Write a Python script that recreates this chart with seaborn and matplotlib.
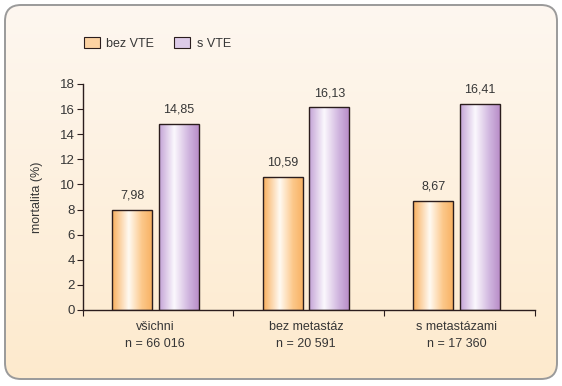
import numpy as np
import pandas as pd
import matplotlib
matplotlib.use("Agg")
import matplotlib.pyplot as plt
import seaborn as sns
from matplotlib.patches import FancyBboxPatch, Rectangle
from matplotlib.colors import LinearSegmentedColormap

# data
categories = ["všichni\nn = 66 016", "bez metastáz\nn = 20 591", "s metastázami\nn = 17 360"]
groups = ["bez VTE", "s VTE"]
bez_vte = [7.98, 10.59, 8.67]
s_vte = [14.85, 16.13, 16.41]

df = pd.DataFrame({
    "kategorie": categories * 2,
    "skupina": [groups[0]] * 3 + [groups[1]] * 3,
    "mortalita": bez_vte + s_vte,
})

sns.set_style("white")
plt.rcParams["font.family"] = ["Liberation Sans", "DejaVu Sans"]
text_col = "#363636"
edge_col = "#2b1d1d"

fig = plt.figure(figsize=(5.62, 3.86), dpi=100)
fig.patch.set_facecolor("white")

# rounded background panel with vertical gradient
bg_ax = fig.add_axes([0, 0, 1, 1])
bg_ax.set_xlim(0, 562)
bg_ax.set_ylim(386, 0)
bg_ax.axis("off")
panel = FancyBboxPatch((5, 5), 552, 374, boxstyle="round,pad=0,rounding_size=16",
                       facecolor="none", edgecolor="#9a9a9a", linewidth=1.4, zorder=3)
bg_ax.add_patch(panel)
bg_cmap = LinearSegmentedColormap.from_list("bg", ["#fef7f0", "#fdeacd"])
grad = np.linspace(0, 1, 256).reshape(-1, 1)
im = bg_ax.imshow(grad, cmap=bg_cmap, extent=(5, 557, 379, 5), aspect="auto", zorder=1)
im.set_clip_path(panel)

ax = fig.add_axes([0.1477, 0.197, 0.952 - 0.1477, 0.7824 - 0.197])
ax.patch.set_alpha(0)

sns.barplot(data=df, x="kategorie", y="mortalita", hue="skupina", hue_order=groups,
            order=categories, palette=["#fcc98c", "#d5bde3"], width=0.617, gap=0.14,
            edgecolor=edge_col, linewidth=1.0, legend=False, ax=ax)

orange_cmap = LinearSegmentedColormap.from_list(
    "o", [(0, "#f8ae5c"), (0.42, "#fffaf2"), (0.75, "#fcc88a"), (1, "#f8b264")])
purple_cmap = LinearSegmentedColormap.from_list(
    "p", [(0, "#c3a2d6"), (0.38, "#fbf8fd"), (0.75, "#cfb4de"), (1, "#b98dc8")])
hgrad = np.linspace(0, 1, 256).reshape(1, -1)

bars = ax.patches
for i, p in enumerate(bars):
    cmap = orange_cmap if i < 3 else purple_cmap
    x0, w, h = p.get_x(), p.get_width(), p.get_height()
    gim = ax.imshow(hgrad, cmap=cmap, extent=(x0, x0 + w, 0, h), aspect="auto", zorder=1.5)
    gim.set_clip_path(p)
    p.set_facecolor("none")
    p.set_zorder(2)
    ax.annotate(f"{h:.2f}".replace(".", ","), (x0 + w / 2, h), xytext=(0, 6),
                textcoords="offset points", ha="center", va="bottom",
                fontsize=9, color=text_col)

ax.set_xlim(-0.48, 2.52)
ax.set_ylim(0, 18)
ax.set_yticks(range(0, 19, 2))
ax.set_xlabel("")
ax.set_ylabel("mortalita (%)", fontsize=9, color=text_col, labelpad=12)
for s in ["top", "right"]:
    ax.spines[s].set_visible(False)
for s in ["left", "bottom"]:
    ax.spines[s].set_color(edge_col)
    ax.spines[s].set_linewidth(1.0)
ax.tick_params(axis="y", direction="out", length=4, width=0.8, color=edge_col,
               labelsize=9.5, labelcolor=text_col, left=True, pad=2)
ax.tick_params(axis="x", which="major", length=0, labelsize=9, labelcolor=text_col, pad=8)
ax.set_xticks([-0.48, 0.515, 1.52, 2.52], minor=True)
ax.tick_params(axis="x", which="minor", direction="out", length=4, width=0.8,
               color=edge_col, bottom=True)
for t in ax.get_xticklabels():
    t.set_linespacing(1.5)

# legend
handles = [Rectangle((0, 0), 1, 1, facecolor="#fcd2a2", edgecolor=edge_col, lw=0.8),
           Rectangle((0, 0), 1, 1, facecolor="#ddcbe8", edgecolor=edge_col, lw=0.8)]
fig.legend(handles, groups, loc="center left", bbox_to_anchor=(0.129, 0.888), ncol=2,
           frameon=False, fontsize=9, labelcolor=text_col, handlelength=1.3,
           handleheight=1.0, handletextpad=0.5, columnspacing=1.6)

fig.savefig("out.png", dpi=100)
